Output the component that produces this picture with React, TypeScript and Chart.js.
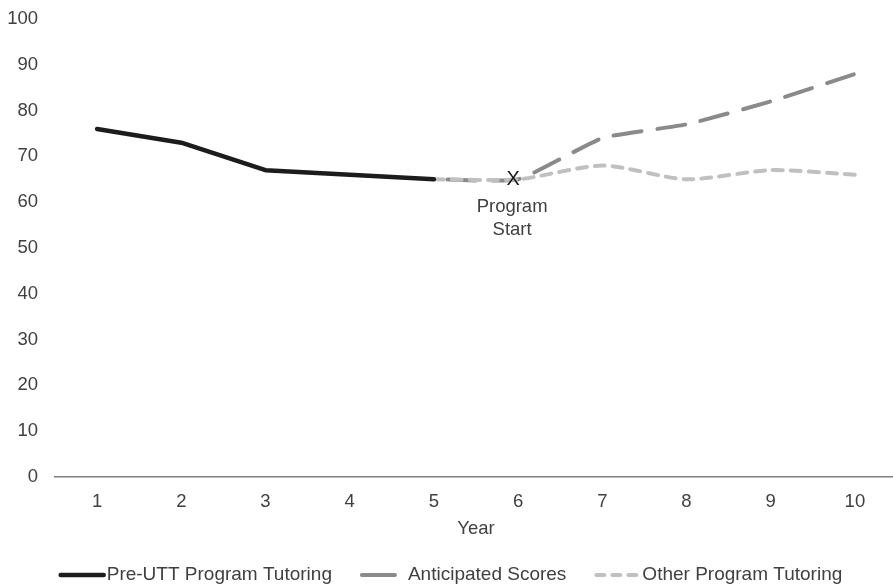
import React, { useEffect, useRef } from "react";
import { Chart, registerables } from "chart.js";

Chart.register(...registerables);

// Years on the horizontal axis
const years: string[] = ["1", "2", "3", "4", "5", "6", "7", "8", "9", "10"];

// Scores by year for each series (null where a series has no value)
const preUttScores: (number | null)[] = [76, 73, 67, 66, 65, null, null, null, null, null];
const anticipatedScores: (number | null)[] = [null, null, null, null, 65, 65, 74, 77, 82, 88];
const otherProgramScores: (number | null)[] = [null, null, null, null, 65, 65, 68, 65, 67, 66];

const seriesLabels: string[] = ["Pre-UTT Program Tutoring", "Anticipated Scores", "Other Program Tutoring"];

// Program start marker
const programStartYear = "6";
const programStartScore = 65;
const programStartText: string[] = ["Program", "Start"];

const axisTitle = "Year";

const FONT = '"Liberation Sans", Arial, sans-serif';
const TEXT_COLOR = "#404040";

const legendDashes: number[][] = [[], [33, 20], [8, 8]];

const overlayPlugin = {
  id: "overlay",
  afterDraw(chart: any) {
    const { ctx, scales } = chart;
    const x = scales.x;
    const y = scales.y;
    ctx.save();

    // "X" marker and caption at the program start point
    const px = x.getPixelForValue(years.indexOf(programStartYear));
    const py = y.getPixelForValue(programStartScore);
    ctx.textAlign = "center";
    ctx.textBaseline = "middle";
    ctx.fillStyle = "#1a1a1a";
    ctx.font = `20px ${FONT}`;
    ctx.fillText("X", px - 5, py);
    ctx.fillStyle = TEXT_COLOR;
    ctx.font = `18.5px ${FONT}`;
    programStartText.forEach((t, i) => ctx.fillText(t, px - 6, py + 28 + i * 23));

    // Axis title
    ctx.fillText(axisTitle, (x.left + x.right) / 2, x.top + 52);

    // Legend row
    ctx.font = `19px ${FONT}`;
    const ly = chart.height - 12;
    const sampleW = 47;
    const gapText = 1;
    const gapItem = 28;
    const items = chart.data.datasets.map((ds: any, i: number) => {
      const w = ctx.measureText(ds.label).width;
      return { ds, w, i };
    });
    const total = items.reduce((s: number, it: any) => s + sampleW + gapText + it.w, 0) + gapItem * (items.length - 1);
    let cx = (893 - total) / 2 + 4;
    items.forEach((it: any) => {
      ctx.save();
      ctx.strokeStyle = it.ds.borderColor;
      ctx.lineWidth = it.ds.borderWidth;
      ctx.lineCap = "round";
      ctx.setLineDash(legendDashes[it.i]);
      ctx.beginPath();
      ctx.moveTo(cx + 2, ly);
      ctx.lineTo(cx + sampleW - 2, ly);
      ctx.stroke();
      ctx.restore();
      ctx.fillStyle = TEXT_COLOR;
      ctx.textAlign = "left";
      ctx.fillText(it.ds.label, cx + sampleW + gapText, ly);
      cx += sampleW + gapText + it.w + gapItem;
    });
    ctx.restore();
  },
};

export default function App() {
  const canvasRef = useRef<HTMLCanvasElement | null>(null);

  useEffect(() => {
    if (!canvasRef.current) return;
    const chart = new Chart(canvasRef.current, {
      type: "line",
      data: {
        labels: years,
        datasets: [
          {
            label: seriesLabels[0],
            data: preUttScores,
            borderColor: "#1c1c1c",
            borderWidth: 4.5,
            borderCapStyle: "round",
            borderJoinStyle: "round",
            pointRadius: 0,
            tension: 0,
            order: 0,
          },
          {
            label: seriesLabels[1],
            data: anticipatedScores,
            borderColor: "#8a8a8a",
            borderWidth: 4,
            borderDash: [28, 16],
            borderDashOffset: 30,
            borderCapStyle: "round",
            borderJoinStyle: "round",
            pointRadius: 0,
            tension: 0.15,
            order: 2,
          },
          {
            label: seriesLabels[2],
            data: otherProgramScores,
            borderColor: "#c0c0c0",
            borderWidth: 4,
            borderDash: [10, 8],
            borderCapStyle: "round",
            borderJoinStyle: "round",
            pointRadius: 0,
            tension: 0.25,
            order: 1,
          },
        ],
      },
      options: {
        animation: false,
        responsive: false,
        devicePixelRatio: 1,
        layout: { padding: { top: 19, right: 0, left: 0, bottom: 0 } },
        plugins: {
          legend: { display: false },
          tooltip: { enabled: false },
        },
        scales: {
          x: {
            offset: true,
            grid: { display: false, drawTicks: false },
            border: { display: true, color: "#7f7f7f", width: 1.5 },
            ticks: {
              color: TEXT_COLOR,
              font: { family: FONT, size: 18.5 },
              padding: 14,
              maxRotation: 0,
            },
            afterFit: (scale: any) => {
              scale.height = 110;
            },
          },
          y: {
            min: 0,
            max: 100,
            grid: { display: false, drawTicks: false },
            border: { display: false },
            ticks: {
              stepSize: 10,
              color: TEXT_COLOR,
              font: { family: FONT, size: 18.5 },
              padding: 17,
            },
            afterFit: (scale: any) => {
              scale.width = 55;
              scale.paddingTop = 0;
              scale.paddingBottom = 0;
            },
          },
        },
      },
      plugins: [overlayPlugin],
    });
    return () => chart.destroy();
  }, []);

  return (
    <div style={{ position: "absolute", left: 0, top: 0, width: 893, height: 587, overflow: "hidden", background: "#fff" }}>
      <canvas ref={canvasRef} width={897} height={587} style={{ width: 897, height: 587, display: "block" }} />
    </div>
  );
}
